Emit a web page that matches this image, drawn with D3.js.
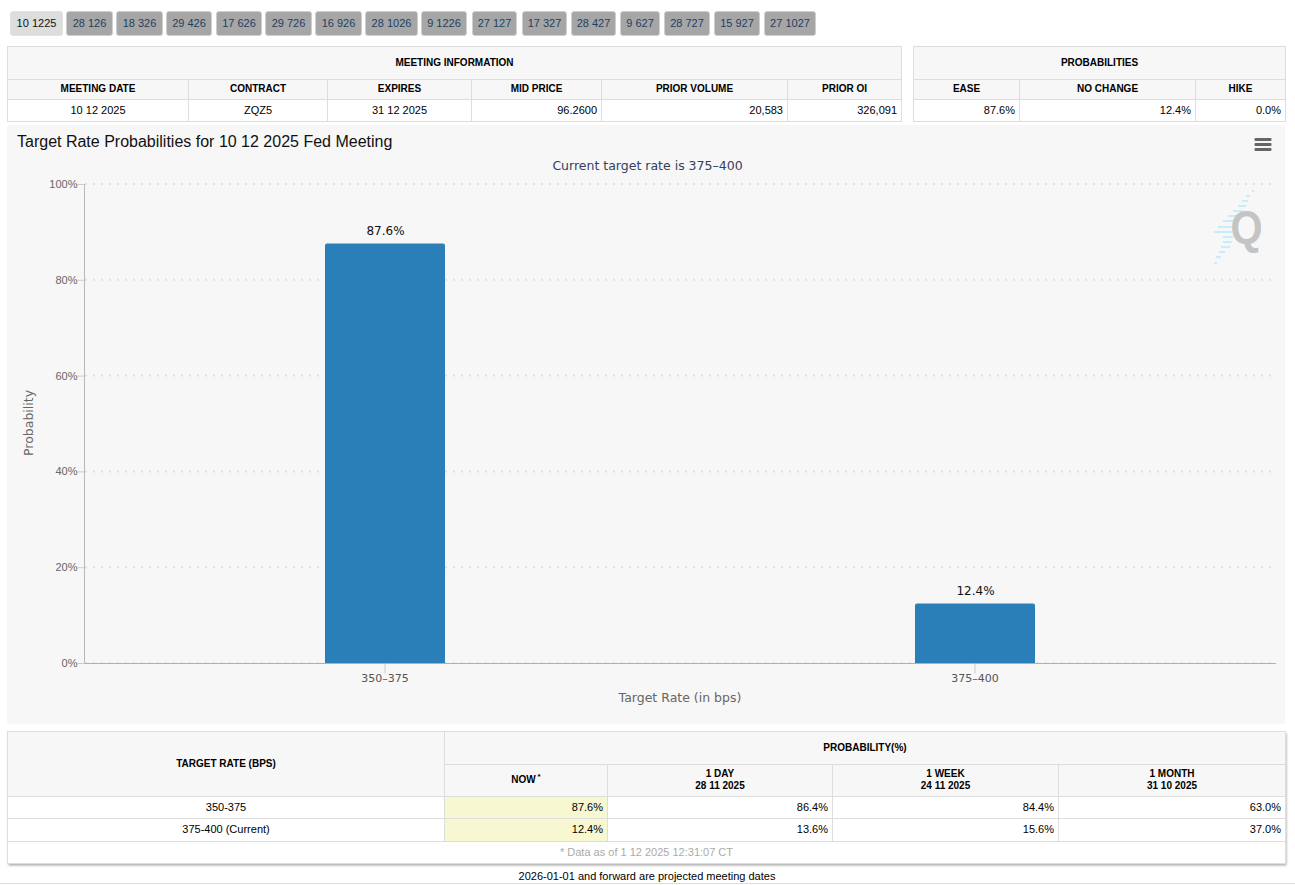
<!DOCTYPE html>
<html>
<head>
<meta charset="utf-8">
<script src="https://cdn.jsdelivr.net/npm/d3@7"></script>
<style>
  html, body { margin: 0; padding: 0; background: #fff; overflow: hidden; }
  svg { display: block; }
  .cell-text { font-family: "Liberation Sans", Arial, sans-serif; font-size: 11px; fill: #000; }
  .head { font-weight: bold; font-size: 10px; fill: #000; }
</style>
</head>
<body>
<script>
// tabs along the top
const meetingTabs = ["10 1225","28 126","18 326","29 426","17 626","29 726","16 926","28 1026","9 1226","27 127","17 327","28 427","9 627","28 727","15 927","27 1027"];
const tabEdges = [[10,63],[66,113],[116,163],[166,212],[216,262],[265,312],[315,362],[365,418],[421,467],[472,517],[522,567],[571,616],[620,660],[664,710],[714,760],[764,816]];

// chart data
const targetRates = ["350-375","375-400"];
const probabilities = [87.6, 12.4];
const yTicks = [0, 20, 40, 60, 80, 100];

// table data
const infoHeaders = ["MEETING DATE","CONTRACT","EXPIRES","MID PRICE","PRIOR VOLUME","PRIOR OI"];
const infoValues = ["10 12 2025","ZQZ5","31 12 2025","96.2600","20,583","326,091"];
const outcomeHeaders = ["EASE","NO CHANGE","HIKE"];
const outcomeValues = ["87.6%","12.4%","0.0%"];
const historyHeaders = [["1 DAY","28 11 2025"],["1 WEEK","24 11 2025"],["1 MONTH","31 10 2025"]];
const historyNow = ["87.6%","12.4%"];
const historyRows = [["86.4%","84.4%","63.0%"],["13.6%","15.6%","37.0%"]];
const rowLabels = ["350-375","375-400 (Current)"];

const width = 1295, height = 885;
const svg = d3.select("body").append("svg").attr("width", width).attr("height", height);

const lineCol = "#dddddd", headBg = "#f7f7f7";

function box(x0, y0, x1, y1, fill) {
    return svg.append("rect").attr("x", x0).attr("y", y0).attr("width", x1 - x0).attr("height", y1 - y0)
        .attr("fill", fill).attr("stroke", lineCol).attr("stroke-width", 1);
}
function label(x, y, txt, anchor, cls) {
    return svg.append("text").attr("class", cls || "cell-text").attr("x", x).attr("y", y)
        .attr("text-anchor", anchor || "middle").text(txt);
}
function vline(x, y0, y1) {
    svg.append("line").attr("x1", x).attr("x2", x).attr("y1", y0).attr("y2", y1)
        .attr("stroke", lineCol);
}

// tabs
const tabs = svg.append("g").selectAll("g").data(meetingTabs).enter().append("g");
tabs.append("rect")
    .attr("x", (d, i) => tabEdges[i][0] + 0.5).attr("y", 11.5)
    .attr("width", (d, i) => tabEdges[i][1] - tabEdges[i][0] - 1).attr("height", 24)
    .attr("rx", 2.5)
    .attr("fill", (d, i) => i === 0 ? "#dddddd" : "#a6a6a6")
    .attr("stroke", (d, i) => i === 0 ? "#e2e2e2" : "#cfcfcf");
tabs.append("text")
    .attr("x", (d, i) => (tabEdges[i][0] + tabEdges[i][1]) / 2).attr("y", 27)
    .attr("text-anchor", "middle")
    .style("font", "11px 'Liberation Sans', Arial, sans-serif")
    .attr("fill", (d, i) => i === 0 ? "#111" : "#1f3f5f")
    .text(d => d);

// top tables
function topTable(cols, title, headers, values, firstCentered) {
    const x0 = cols[0], x1 = cols[cols.length - 1];
    box(x0, 46.5, x1, 79.5, headBg);
    box(x0, 79.5, x1, 99.5, headBg);
    box(x0, 99.5, x1, 121.5, "#fff");
    label((x0 + x1) / 2, 66, title, "middle", "cell-text head");
    headers.forEach((h, i) => {
        if (i > 0) vline(cols[i], 79.5, 121.5);
        label((cols[i] + cols[i + 1]) / 2, 92, h, "middle", "cell-text head");
        if (i < firstCentered) label((cols[i] + cols[i + 1]) / 2, 114, values[i]);
        else label(cols[i + 1] - 4.5, 114, values[i], "end");
    });
}
topTable([7.5,188.5,327.5,471.5,601.5,787.5,901.5], "MEETING INFORMATION", infoHeaders, infoValues, 3);
topTable([913.5,1019.5,1195.5,1285.5], "PROBABILITIES", outcomeHeaders, outcomeValues, 0);

// chart panel
svg.append("rect").attr("x", 7).attr("y", 125).attr("width", 1278).attr("height", 599).attr("rx", 3).attr("fill", "#f7f7f7");

svg.append("text").attr("x", 17).attr("y", 147)
    .style("font", "16px 'Liberation Sans', Arial, sans-serif").attr("fill", "#111")
    .text("Target Rate Probabilities for 10 12 2025 Fed Meeting");
svg.append("text").attr("x", 647.5).attr("y", 170).attr("text-anchor", "middle")
    .style("font", "12.5px 'DejaVu Sans', sans-serif").attr("fill", "#333f5f")
    .text("Current target rate is 375\u2013400");

// menu icon
[0, 1, 2].forEach(i => svg.append("rect").attr("x", 1254.5).attr("y", 138 + i * 5)
    .attr("width", 17).attr("height", 3).attr("rx", 1).attr("fill", "#666"));

// Q watermark
const wm = svg.append("g");
[[1252,190,2],[1246,195,4],[1242,200,6],[1238,205,8],[1233,210,10],[1228,215,10],[1223,220,10],[1218,226,15],[1214,231,18],[1223,236,10],[1223,241,9],[1221,246,9],[1219,251,6],[1216,256,5],[1214,262,3]]
    .forEach(b => wm.append("rect").attr("x", b[0]).attr("y", b[1]).attr("width", b[2]).attr("height", 2).attr("fill", "#c9ecfb"));
wm.append("text").attr("transform", "translate(1246.5,243) scale(0.88,1)").attr("text-anchor", "middle")
    .style("font", "bold 47px 'Liberation Sans', Arial, sans-serif").attr("fill", "#c4c4c4").text("Q");

// scales
const y = d3.scaleLinear().domain([0, 100]).range([663, 184]);
const barPad = 0.7966;
const x = d3.scaleBand().domain(targetRates).range([90, 1270]).paddingInner(barPad).paddingOuter(barPad / 2);

// gridlines
svg.append("g").selectAll("line").data(yTicks).enter().append("line")
    .attr("x1", 85).attr("x2", 1272)
    .attr("y1", d => y(d)).attr("y2", d => y(d))
    .attr("stroke", "#e0e0e0").attr("stroke-width", 2).attr("stroke-dasharray", "2,6");

// y axis
const yAxis = svg.append("g").attr("transform", "translate(84.5,0)")
    .call(d3.axisLeft(y).tickValues(yTicks).tickFormat(d => d + "%").tickSize(7).tickPadding(0));
yAxis.select(".domain").attr("stroke", "#b8b8b8").attr("d", "M0,184V663");
yAxis.selectAll(".tick line").attr("stroke", "#cccccc");
yAxis.selectAll("text").style("font", "11px 'Liberation Sans', Arial, sans-serif").attr("fill", "#666");

// bars, rounded on the top corners only
svg.append("g").selectAll("path").data(targetRates).enter().append("path")
    .attr("d", (d, i) => {
        const r = 2, x0 = x(d), x1 = x(d) + x.bandwidth(), top = y(probabilities[i]), base = y(0);
        return `M${x0},${base}V${top + r}Q${x0},${top} ${x0 + r},${top}H${x1 - r}Q${x1},${top} ${x1},${top + r}V${base}Z`;
    })
    .attr("fill", "#2a7fb8");
svg.append("g").selectAll("text").data(targetRates).enter().append("text")
    .attr("x", d => x(d) + x.bandwidth() / 2 + 0.5)
    .attr("y", (d, i) => y(probabilities[i]) - 8.5)
    .attr("text-anchor", "middle")
    .style("font", "12px 'DejaVu Sans', sans-serif").attr("fill", "#111")
    .text((d, i) => probabilities[i].toFixed(1) + "%");

// x axis
const xAxis = svg.append("g").attr("transform", "translate(0,663.5)")
    .call(d3.axisBottom(x).tickSize(10).tickPadding(1).tickFormat(d => d.replace("-", "\u2013")));
xAxis.select(".domain").attr("stroke", "#b0b0b0").attr("d", "M84.5,0H1276");
xAxis.selectAll(".tick line").attr("stroke", "#cccccc");
xAxis.selectAll("text").style("font", "11px 'DejaVu Sans', sans-serif").attr("fill", "#555");

// axis titles
svg.append("text").attr("x", 680).attr("y", 702).attr("text-anchor", "middle")
    .style("font", "12.5px 'DejaVu Sans', sans-serif").attr("fill", "#666").text("Target Rate (in bps)");
svg.append("text").attr("transform", "translate(33,423) rotate(-90)").attr("text-anchor", "middle")
    .style("font", "12.5px 'DejaVu Sans', sans-serif").attr("fill", "#666").text("Probability");

// bottom table
const defs = svg.append("defs");
const shadow = defs.append("filter").attr("id", "shadow").attr("x", "-2%").attr("y", "-5%").attr("width", "104%").attr("height", "112%");
shadow.append("feDropShadow").attr("dx", 1).attr("dy", 2).attr("stdDeviation", 1.2).attr("flood-color", "#999").attr("flood-opacity", 0.8);

const bCols = [444.5, 607.5, 832.5, 1058.5, 1285.5];
const rowY = [796.5, 818.5, 841.5];
svg.append("rect").attr("x", 7.5).attr("y", 731.5).attr("width", 1278).attr("height", 132)
    .attr("fill", "#fff").attr("filter", "url(#shadow)");
box(7.5, 731.5, 444.5, 796.5, headBg);
box(444.5, 731.5, 1285.5, 764.5, headBg);
box(444.5, 764.5, 1285.5, 796.5, headBg);
label(226, 767, "TARGET RATE (BPS)", "middle", "cell-text head");
label(865, 751, "PROBABILITY(%)", "middle", "cell-text head");
label(523.5, 783, "NOW", "middle", "cell-text head");
svg.append("text").attr("class", "cell-text head").attr("x", 537.5).attr("y", 779).style("font-size", "8px").text("*");
historyHeaders.forEach((h, i) => {
    const cx = (bCols[i + 1] + bCols[i + 2]) / 2;
    label(cx, 777, h[0], "middle", "cell-text head");
    label(cx, 789, h[1], "middle", "cell-text head");
});
svg.append("rect").attr("x", 444.5).attr("y", rowY[0]).attr("width", 163).attr("height", rowY[2] - rowY[0]).attr("fill", "#f7f7d2");
[1, 2, 3].forEach(i => vline(bCols[i], 764.5, rowY[2]));
svg.append("rect").attr("x", 7.5).attr("y", 731.5).attr("width", 1278).attr("height", 132)
    .attr("fill", "none").attr("stroke", lineCol);
vline(444.5, 731.5, rowY[2]);
rowY.forEach(ry => svg.append("line").attr("x1", 7.5).attr("x2", 1285.5).attr("y1", ry).attr("y2", ry).attr("stroke", lineCol));
rowLabels.forEach((r, i) => {
    const by = rowY[i] + 14;
    label(226, by, r);
    label(bCols[1] - 4.5, by, historyNow[i], "end");
    historyRows[i].forEach((v, j) => label(bCols[j + 2] - 4.5, by, v, "end"));
});
label(646.5, 856, "* Data as of 1 12 2025 12:31:07 CT").style("fill", "#aaaaaa");
label(647, 880, "2026-01-01 and forward are projected meeting dates");
svg.append("line").attr("x1", 0).attr("x2", 1295).attr("y1", 883.5).attr("y2", 883.5).attr("stroke", "#ddd");
</script>
</body>
</html>
